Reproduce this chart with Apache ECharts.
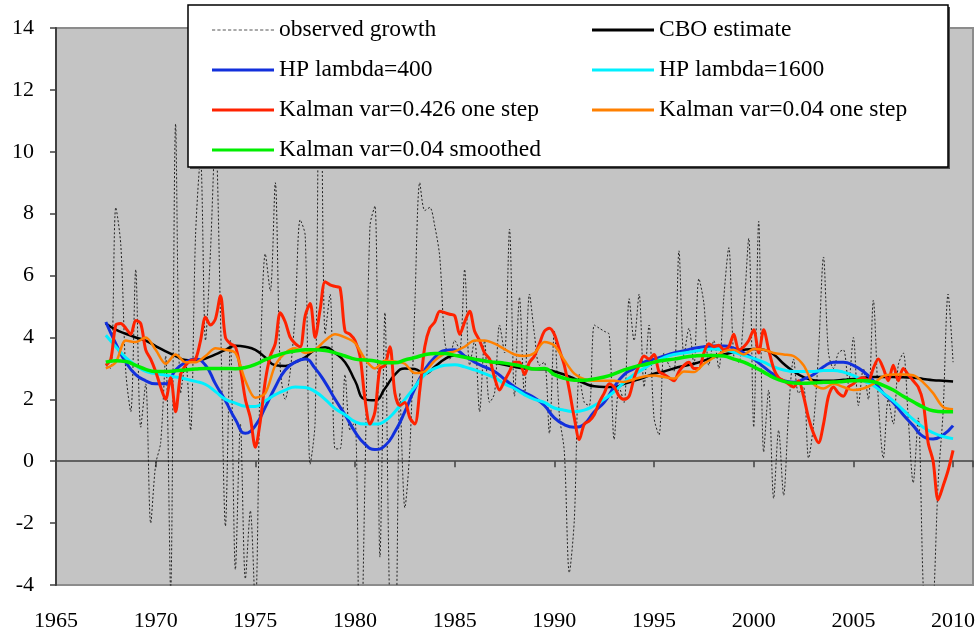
<!DOCTYPE html>
<html><head><meta charset="utf-8">
<script src="https://cdn.jsdelivr.net/npm/echarts@6/dist/echarts.min.js"></script>
<style>html,body{margin:0;padding:0;background:#fff}#c{width:979px;height:637px}</style>
</head><body><div id="c"></div>
<script>
// x position of first quarterly observation (1967 Q3) and first half-year sample
const quarterStart = 1967.5;
const halfStart = 1967.5;

// quarterly series
const observedGrowth = [
  3.1, 3.0,
  8.2, 7.0, 2.9, 1.6,
  6.2, 1.1, 2.5, -2.0,
  -0.1, 0.6, 3.4, -4.2,
  10.9, 2.2, 3.2, 1.0,
  7.3, 9.8, 3.9, 6.8,
  10.6, 4.7, -2.1, 3.9,
  -3.5, 1.2, -3.8, -1.6,
  -4.8, 3.1, 6.7, 5.5,
  9.0, 3.0, 2.0, 2.9,
  4.8, 7.8, 7.3, -0.1,
  1.3, 16.4, 4.1, 5.4,
  0.4, 0.4, 2.8, 1.0,
  1.3, -7.9, -0.5, 7.6,
  8.25, -3.1, 4.8, -4.9,
  -6.4, 2.2, -1.5, 0.4,
  5.0, 9.0, 8.1, 8.2,
  7.6, 6.6, 3.9, 3.3,
  3.9, 3.6, 6.2, 3.1,
  3.9, 1.6, 3.9, 1.9,
  2.2, 4.4, 3.5, 7.5,
  2.1, 5.3, 2.1, 5.4,
  4.1, 3.1, 3.2, 0.9,
  4.2, 1.5, 0.3, -3.6,
  -1.9, 2.8, 1.9, 1.8,
  4.4, 4.3, 4.2, 4.1,
  0.7, 2.4, 1.9, 5.25,
  3.9, 5.4, 2.4, 4.4,
  1.4, 0.85, 3.5, 3.1,
  2.9, 6.8, 3.4, 4.3,
  3.1, 5.9, 5.1, 3.1,
  3.9, 3.0, 5.3, 6.9,
  3.4, 3.2, 4.8, 7.2,
  1.1, 7.75, 0.3, 2.3,
  -1.2, 1.0, -1.1, 1.6,
  3.3, 2.2, 2.4, 0.1,
  1.2, 3.5, 6.6, 3.5,
  3.0, 3.5, 3.6, 2.5,
  4.0, 1.8, 3.0, 2.0,
  5.2, 2.0, 0.1, 2.0,
  1.2, 3.1, 3.5, 1.4,
  -0.7, 1.4, -4.0, -6.8,
  -4.9, -0.7, 1.6, 5.4,
  3.2
];
const kalman426OneStep = [
  3.1, 3.3,
  4.4, 4.45, 4.3, 4.1,
  4.55, 4.45, 3.6, 3.3,
  2.9, 2.4, 2.0, 2.7,
  1.6, 2.8, 3.1, 3.25,
  3.3, 3.9, 4.65, 4.4,
  4.6, 5.35, 4.0, 3.8,
  3.7, 3.0, 2.0, 1.4,
  0.45, 1.3, 2.6, 3.4,
  3.8, 4.8, 4.5, 4.0,
  3.8, 3.7, 4.7, 5.1,
  4.0, 4.9, 5.8, 5.7,
  5.65, 5.6, 4.2, 4.1,
  3.9, 3.4, 2.0, 1.2,
  1.6, 3.0, 3.1, 3.7,
  2.2, 1.8, 1.9, 1.4,
  1.2, 2.3, 3.7, 4.3,
  4.5, 4.85, 4.8, 4.75,
  4.7, 4.1, 4.5, 4.85,
  4.2, 3.9, 3.5, 3.3,
  2.7, 2.3, 2.6, 2.9,
  3.2, 3.2, 2.8, 3.2,
  3.4, 3.8, 4.2, 4.3,
  4.1, 3.6, 3.1, 2.3,
  1.4, 0.7, 1.2, 1.3,
  1.5, 1.9, 2.2, 2.5,
  2.4, 2.1, 2.0, 2.1,
  2.7, 3.1, 3.4, 3.3,
  3.45, 2.9, 2.8, 2.7,
  2.6, 2.9, 3.1, 3.2,
  3.0, 3.0, 3.5, 3.8,
  3.7, 3.75, 3.6, 3.7,
  4.1, 3.6, 3.7, 3.9,
  4.25, 3.5, 4.25, 3.6,
  3.0, 2.7, 2.6, 2.5,
  2.4, 2.6, 2.1, 1.4,
  0.9, 0.6, 1.2, 2.1,
  2.4, 2.2, 2.1, 2.4,
  2.5, 2.65, 2.7, 2.6,
  3.0, 3.3, 3.0, 2.6,
  3.1, 2.6, 3.0, 2.8,
  2.6, 2.4, 1.9, 0.6,
  0.0, -1.25, -0.8, -0.3,
  0.35
];

// half-yearly series
const cboEstimate = [
  4.45,
  4.25, 4.12, 4.0, 3.9, 3.72, 3.55, 3.4, 3.27, 3.25, 3.32,
  3.45, 3.6, 3.73, 3.7, 3.6, 3.35, 3.1, 3.08, 3.2, 3.36,
  3.6, 3.68, 3.5, 3.2, 2.6, 2.0, 1.97, 2.35, 2.8, 3.0,
  2.98, 2.83, 3.05, 3.3, 3.42, 3.38, 3.3, 3.25, 3.18, 3.12,
  3.05, 3.0, 2.98, 2.97, 2.9, 2.8, 2.67, 2.52, 2.42, 2.4,
  2.4, 2.5, 2.6, 2.7, 2.83, 2.9, 3.0, 3.08, 3.15, 3.25,
  3.37, 3.45, 3.53, 3.6, 3.63, 3.6, 3.45, 3.15, 2.9, 2.72,
  2.62, 2.6, 2.6, 2.63, 2.66, 2.7, 2.72, 2.72, 2.72, 2.71,
  2.7, 2.66, 2.62, 2.6,
  2.58
];
const hp400 = [
  4.5,
  3.8, 3.2, 2.8, 2.6, 2.5, 2.5, 2.95, 3.2, 3.3, 3.1,
  2.5, 1.95, 1.35, 0.9, 1.15, 1.75, 2.4, 2.95, 3.2, 3.3,
  3.0, 2.55, 2.0, 1.5, 0.95, 0.55, 0.38, 0.5, 0.95, 1.6,
  2.35, 2.95, 3.36, 3.58, 3.6, 3.4, 3.2, 3.05, 2.9, 2.65,
  2.4, 2.22, 2.05, 1.8, 1.4, 1.18, 1.1, 1.2, 1.6, 1.9,
  2.4, 2.8, 3.0, 3.2, 3.3, 3.4, 3.5, 3.57, 3.65, 3.7,
  3.72, 3.72, 3.65, 3.5, 3.3, 3.05, 2.8, 2.6, 2.55, 2.65,
  2.8, 3.05, 3.2, 3.2, 3.1, 2.9, 2.6, 2.2, 1.9, 1.5,
  1.15, 0.8, 0.72, 0.85,
  1.15
];
const hp1600 = [
  4.07,
  3.7, 3.35, 3.1, 2.9, 2.83, 2.78, 2.72, 2.66, 2.58, 2.48,
  2.25, 2.0, 1.88, 1.78, 1.77, 1.95, 2.15, 2.3, 2.4, 2.38,
  2.25, 2.0, 1.7, 1.5, 1.28, 1.2, 1.2, 1.3, 1.6, 2.0,
  2.4, 2.8, 3.0, 3.1, 3.12, 3.05, 2.95, 2.83, 2.7, 2.5,
  2.35, 2.15, 2.0, 1.9, 1.72, 1.65, 1.6, 1.65, 1.8, 2.0,
  2.25, 2.55, 2.8, 3.0, 3.2, 3.35, 3.45, 3.5, 3.55, 3.6,
  3.63, 3.6, 3.52, 3.42, 3.32, 3.2, 3.05, 2.95, 2.9, 2.9,
  2.9, 2.93, 2.93, 2.88, 2.77, 2.6, 2.45, 2.2, 1.95, 1.65,
  1.35, 1.1, 0.92, 0.8,
  0.73
];
const kalman04OneStep = [
  3.0,
  3.2, 3.9, 3.85, 4.0, 3.6, 3.15, 3.45, 3.2, 3.2, 3.4,
  3.65, 3.6, 3.5, 2.6, 2.05, 2.2, 3.1, 3.5, 3.65, 3.5,
  3.6, 3.9, 4.1, 4.0, 3.82, 3.3, 3.0, 3.25, 3.22, 3.15,
  2.85, 2.9, 3.25, 3.48, 3.55, 3.7, 3.9, 3.9, 3.8, 3.62,
  3.45, 3.4, 3.5, 3.85, 3.74, 3.26, 2.83, 2.65, 2.6, 2.6,
  2.6, 2.56, 2.65, 2.74, 2.77, 2.72, 2.67, 2.9, 2.88, 3.15,
  3.35, 3.55, 3.6, 3.45, 3.63, 3.6, 3.5, 3.45, 3.4, 3.1,
  2.5, 2.35, 2.5, 2.4, 2.3, 2.35, 2.5, 2.75, 2.8, 2.8,
  2.78, 2.55, 2.2, 1.75,
  1.68
];
const kalman04Smoothed = [
  3.2,
  3.25, 3.22, 3.1, 2.97, 2.9, 2.9, 2.92, 2.95, 2.98, 3.0,
  3.0, 3.0, 2.99, 3.03, 3.13, 3.28, 3.4, 3.5, 3.56, 3.6,
  3.6, 3.58, 3.5, 3.4, 3.3, 3.27, 3.24, 3.18, 3.18, 3.27,
  3.35, 3.44, 3.48, 3.48, 3.42, 3.36, 3.3, 3.24, 3.2, 3.17,
  3.12, 3.05, 2.98, 3.0, 2.8, 2.68, 2.62, 2.62, 2.66, 2.72,
  2.82, 2.95, 3.05, 3.12, 3.2, 3.26, 3.3, 3.36, 3.4, 3.42,
  3.42, 3.4, 3.3, 3.2, 3.05, 2.88, 2.7, 2.58, 2.53, 2.52,
  2.53, 2.55, 2.56, 2.58, 2.6, 2.6, 2.57, 2.45, 2.3, 2.1,
  1.92, 1.75, 1.63, 1.6,
  1.6
];

const seriesNames = [
  'observed growth', 'CBO estimate', 'HP lambda=400', 'HP lambda=1600',
  'Kalman var=0.426 one step', 'Kalman var=0.04 one step', 'Kalman var=0.04 smoothed'
];
const legendLeftCol = [seriesNames[0], seriesNames[2], seriesNames[4], seriesNames[6]];
const legendRightCol = [seriesNames[1], seriesNames[3], seriesNames[5]];

const yearTicks = { min: 1965, max: 2011, step: 5 };
const valueTicks = { min: -4, max: 14, step: 2 };

function toPairs(arr, start, step) { return arr.map((v, i) => [start + i * step, v]); }

const serifFont = 'Liberation Serif, Times New Roman, serif';
const dashIcon = 'path://' + Array.from({length: 12}, (_, i) => 'M' + (i * 5) + ' 0h3v1h-3z').join(' ');

const chart = echarts.init(document.getElementById('c'), null, { renderer: 'canvas' });

function line(name, data, color, width, extra) {
  return Object.assign({
    name, type: 'line', data, symbol: 'none', smooth: true, clip: true,
    lineStyle: { color, width }, itemStyle: { color }, emphasis: { disabled: true },
    animation: false
  }, extra || {});
}

const legendBase = {
  orient: 'vertical', padding: 0, itemWidth: 62, itemHeight: 3, itemGap: 16,
  icon: 'rect', selectedMode: false, zlevel: 1, z: 10,
  textStyle: { fontFamily: serifFont, fontSize: 23.5, color: '#000', lineHeight: 23 }
};

chart.setOption({
  backgroundColor: '#ffffff',
  animation: false,
  grid: { left: 56, right: 6, top: 28, bottom: 52, show: true,
          backgroundColor: '#c4c4c4', borderColor: '#8c8c8c', borderWidth: 2 },
  graphic: {
    elements: [
      { type: 'rect', zlevel: 1, z: 1, shape: { x: 190, y: 7, width: 760, height: 162 },
        style: { fill: '#505050' } },
      { type: 'rect', zlevel: 1, z: 2, shape: { x: 188, y: 5, width: 760, height: 162 },
        style: { fill: '#ffffff', stroke: '#000', lineWidth: 1.5 } }
    ]
  },
  legend: [
    Object.assign({}, legendBase, { left: 212, top: 18,
      data: legendLeftCol.map(n => n === seriesNames[0]
        ? { name: n, icon: dashIcon, itemStyle: { color: '#555' } } : { name: n }) }),
    Object.assign({}, legendBase, { left: 592, top: 18, data: legendRightCol })
  ],
  xAxis: [
    { type: 'value', min: yearTicks.min, max: yearTicks.max, interval: yearTicks.step,
      position: 'bottom',
      axisLine: { show: false, onZero: false }, axisTick: { show: false }, splitLine: { show: false },
      axisLabel: { margin: 25, fontFamily: serifFont, fontSize: 22, color: '#000',
        formatter: v => (v % yearTicks.step === 0 ? String(v) : '') } },
    { type: 'value', min: yearTicks.min, max: yearTicks.max, interval: yearTicks.step,
      position: 'bottom',
      axisLine: { show: true, onZero: true, onZeroAxisIndex: 0, lineStyle: { color: '#404040', width: 1.5 } },
      axisTick: { show: true, length: 6, lineStyle: { color: '#404040', width: 1.5 } },
      axisLabel: { show: false }, splitLine: { show: false } }
  ],
  yAxis: {
    type: 'value', min: valueTicks.min, max: valueTicks.max, interval: valueTicks.step,
    axisLine: { show: true, onZero: false, lineStyle: { color: '#404040', width: 2 } },
    axisTick: { show: true, length: 6, lineStyle: { color: '#404040', width: 1.5 } },
    splitLine: { show: false },
    axisLabel: { margin: 22, fontFamily: serifFont, fontSize: 22, color: '#000' }
  },
  series: [
    line(seriesNames[0], toPairs(observedGrowth, quarterStart, 0.25), '#222222', 1,
      { smooth: 0.3, lineStyle: { color: '#222222', width: 1, type: [2, 2] } }),
    line(seriesNames[1], toPairs(cboEstimate, halfStart, 0.5), '#000000', 2.5),
    line(seriesNames[2], toPairs(hp400, halfStart, 0.5), '#1230dc', 3),
    line(seriesNames[3], toPairs(hp1600, halfStart, 0.5), '#00f0ff', 3),
    line(seriesNames[4], toPairs(kalman426OneStep, quarterStart, 0.25), '#ff2200', 3, { smooth: 0.3 }),
    line(seriesNames[5], toPairs(kalman04OneStep, halfStart, 0.5), '#ff8000', 2.5, { smooth: 0.3 }),
    line(seriesNames[6], toPairs(kalman04Smoothed, halfStart, 0.5), '#00ee00', 3.5)
  ]
});
</script></body></html>
